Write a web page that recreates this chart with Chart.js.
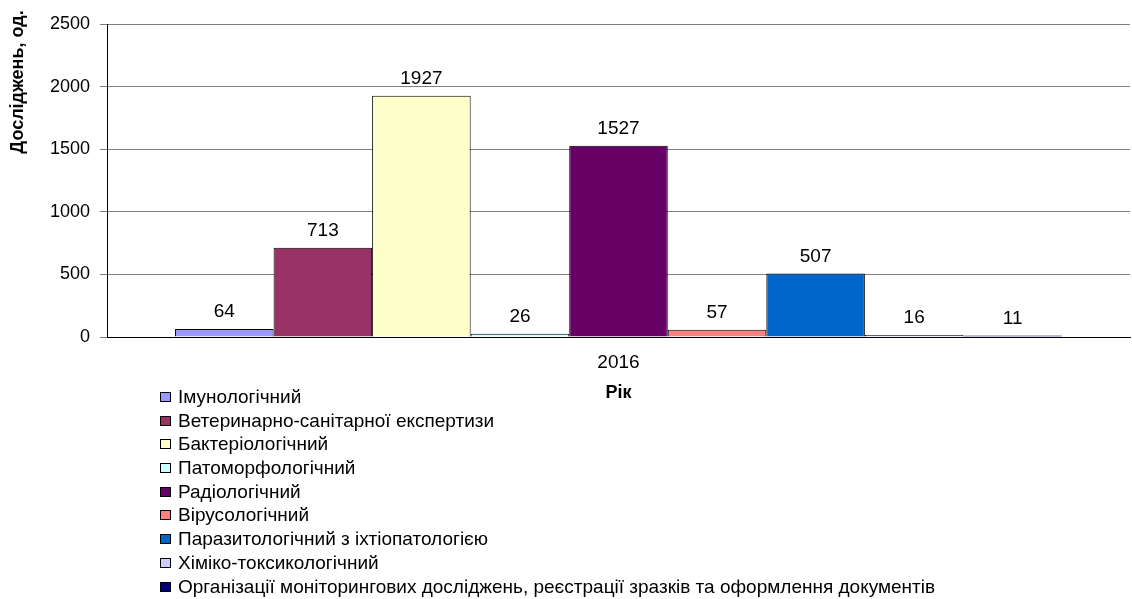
<!DOCTYPE html>
<html>
<head>
<meta charset="utf-8">
<script src="https://cdn.jsdelivr.net/npm/chart.js@4.4.1/dist/chart.umd.min.js"></script>
<style>
  html, body { margin: 0; padding: 0; background: #fff; }
  #wrap { position: relative; width: 1132px; height: 599px; }
  #legend {
    position: absolute; left: 160px; top: 385px;
    font: 19px 'Liberation Sans', Arial, sans-serif; color: #000;
    list-style: none; margin: 0; padding: 0;
  }
  #legend li { height: 23.7px; line-height: 23.7px; white-space: nowrap; }
  #legend span.box {
    display: inline-block; width: 9px; height: 8px; border: 1px solid #000;
    margin-right: 7px; vertical-align: 1px;
  }
</style>
</head>
<body>
<div id="wrap">
  <canvas id="chart" width="1132" height="599"></canvas>
  <ul id="legend"></ul>
</div>
<script>
// values
const years = ['2016'];
const seriesNames = [
  'Імунологічний',
  'Ветеринарно-санітарної експертизи',
  'Бактеріологічний',
  'Патоморфологічний',
  'Радіологічний',
  'Вірусологічний',
  'Паразитологічний з іхтіопатологією',
  'Хіміко-токсикологічний',
  'Організації моніторингових досліджень, реєстрації зразків та оформлення документів'
];
const seriesValues = [64, 713, 1927, 26, 1527, 57, 507, 16, 11];
const seriesColors = [
  '#9999FF', '#993366', '#FFFFCC', '#CCFFFF', '#660066',
  '#FF8080', '#0066CC', '#CCCCFF', '#000080'
];
const yTicks = [0, 500, 1000, 1500, 2000, 2500];

const FONT = "'Liberation Sans', Arial, sans-serif";

(function () {
  const datasets = seriesNames.map(function (name, i) {
    return {
      label: name,
      data: [seriesValues[i]],
      backgroundColor: seriesColors[i],
      borderColor: '#000',
      borderWidth: 1,
      barPercentage: 1,
      categoryPercentage: 0.867
    };
  });

  // numbers above each bar
  const valueLabels = {
    id: 'valueLabels',
    afterDatasetsDraw(chart) {
      const ctx = chart.ctx;
      ctx.save();
      ctx.font = '19px ' + FONT;
      ctx.fillStyle = '#000';
      ctx.textAlign = 'center';
      ctx.textBaseline = 'middle';
      chart.data.datasets.forEach(function (ds, i) {
        const bar = chart.getDatasetMeta(i).data[0];
        ctx.fillText(String(ds.data[0]), bar.x, bar.y - 17);
      });
      ctx.restore();
    }
  };

  // y title sits high on the left, like the original
  const yTitle = {
    id: 'yTitle',
    afterDraw(chart) {
      const ctx = chart.ctx;
      ctx.save();
      ctx.translate(18, 82);
      ctx.rotate(-Math.PI / 2);
      ctx.font = 'bold 18px ' + FONT;
      ctx.fillStyle = '#000';
      ctx.textAlign = 'center';
      ctx.textBaseline = 'middle';
      ctx.fillText('Досліджень, од.', 0, 0);
      ctx.restore();
    }
  };

  new Chart(document.getElementById('chart'), {
    type: 'bar',
    data: { labels: years, datasets: datasets },
    plugins: [valueLabels, yTitle],
    options: {
      responsive: false,
      animation: false,
      layout: { padding: { top: 24, right: 2, bottom: 195, left: 0 } },
      plugins: {
        legend: { display: false },
        tooltip: { enabled: false }
      },
      scales: {
        x: {
          grid: { display: false },
          border: { color: '#000', width: 1 },
          ticks: { color: '#000', font: { family: FONT, size: 19 }, padding: 6 },
          title: {
            display: true, text: 'Рік', color: '#000',
            font: { family: FONT, size: 18, weight: 'bold' },
            padding: 0
          },
          afterFit(scale) { scale.height = 67; }
        },
        y: {
          min: 0,
          max: 2500,
          afterBuildTicks(scale) { scale.ticks = yTicks.map(v => ({ value: v })); },
          grid: { color: '#7f7f7f', tickLength: 7 },
          border: { color: '#000', width: 1 },
          ticks: {
            color: '#000', font: { family: FONT, size: 18 }, padding: 10,
            callback: v => String(v)
          },
          afterFit(scale) { scale.width = 107; }
        }
      }
    }
  });

  const legend = document.getElementById('legend');
  datasets.forEach(function (ds) {
    const li = document.createElement('li');
    const box = document.createElement('span');
    box.className = 'box';
    box.style.background = ds.backgroundColor;
    li.appendChild(box);
    li.appendChild(document.createTextNode(ds.label));
    legend.appendChild(li);
  });
})();
</script>
</body>
</html>
